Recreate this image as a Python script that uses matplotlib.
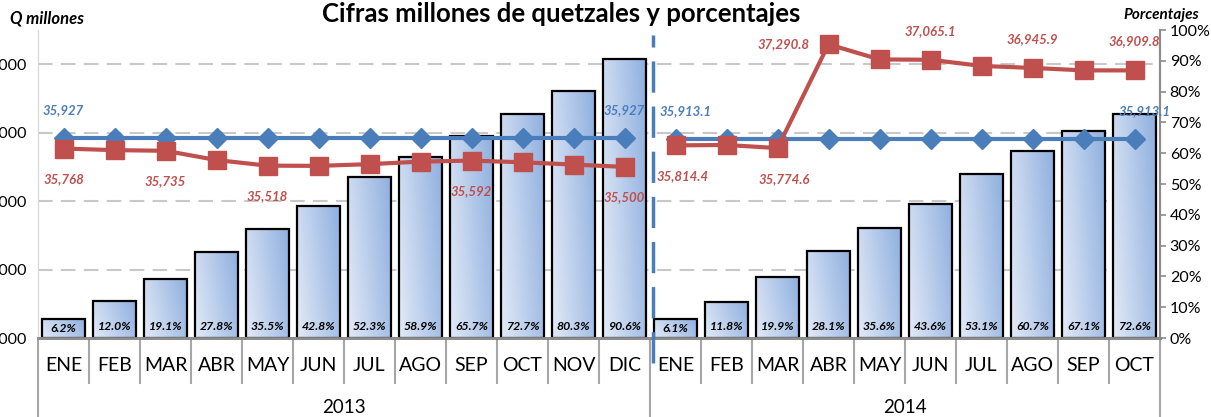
import numpy as np
import matplotlib
matplotlib.use('Agg')
import matplotlib.pyplot as plt
from matplotlib.lines import Line2D
from matplotlib.transforms import blended_transform_factory

plt.rcParams['font.family'] = ['Lato', 'DejaVu Sans']

meses13 = ['ENE', 'FEB', 'MAR', 'ABR', 'MAY', 'JUN', 'JUL', 'AGO', 'SEP', 'OCT', 'NOV', 'DIC']
meses14 = ['ENE', 'FEB', 'MAR', 'ABR', 'MAY', 'JUN', 'JUL', 'AGO', 'SEP', 'OCT']
anios = ['2013', '2014']

# porcentajes de ejecucion (barras, eje derecho)
pct13 = [6.2, 12.0, 19.1, 27.8, 35.5, 42.8, 52.3, 58.9, 65.7, 72.7, 80.3, 90.6]
pct14 = [6.1, 11.8, 19.9, 28.1, 35.6, 43.6, 53.1, 60.7, 67.1, 72.6]

# millones de quetzales (lineas, eje izquierdo)
azul13 = [35927] * 12
azul14 = [35913.1] * 10
rojo13 = [35768, 35745, 35735, 35600, 35518, 35515, 35540, 35577, 35592, 35567, 35534, 35500]
rojo14 = [35814.4, 35820, 35774.6, 37290.8, 37070, 37065.1, 36975, 36945.9, 36910, 36909.8]

# etiquetas visibles: (indice, texto)
etq_azul13 = [(0, '35,927'), (11, '35,927')]
etq_azul14 = [(0, '35,913.1'), (9, '35,913.1')]
etq_rojo13 = [(0, '35,768'), (2, '35,735'), (4, '35,518'), (8, '35,592'), (11, '35,500')]
etq_rojo14_abajo = [(0, '35,814.4'), (2, '35,774.6')]
etq_rojo14_arriba = [(5, '37,065.1'), (7, '36,945.9'), (9, '36,909.8')]

azul = '#4a7ebb'
rojo = '#c0504d'
gris = '#a6a6a6'

n13 = len(meses13)
n14 = len(meses14)
x13 = np.arange(n13)
x14 = np.arange(n14) + n13
n = n13 + n14

fig = plt.figure(figsize=(12.11, 4.17), dpi=100)
axp = fig.add_axes([38/1211, 1-338/417, 1122/1211, 308/417])
ax = axp.twinx()
ax.set_zorder(axp.get_zorder() + 1)
ax.patch.set_visible(False)

# eje de porcentajes a la derecha, valores a la izquierda
axp.yaxis.tick_right()
ax.yaxis.tick_left()
axp.set_xlim(-0.5, n - 0.5)
axp.set_ylim(0, 100)
ax.set_ylim(33000, 37500)

# lineas de cuadricula (detras de las barras)
tr = blended_transform_factory(axp.transAxes, ax.transData)
for v in [34000, 35000, 36000, 37000]:
    axp.plot([0, 1], [v, v], transform=tr, color='#c8c8c8', lw=1.5,
             dashes=(7, 4), zorder=0)

# barras con degradado
cmap = matplotlib.colors.LinearSegmentedColormap.from_list('g', ['#e2eaf7', '#90b0df'])
gx, gy = np.meshgrid(np.linspace(0, 1, 50), np.linspace(0, 1, 50))
grad = 0.75 * gx + 0.25 * gy
barras = axp.bar(np.concatenate([x13, x14]), pct13 + pct14, width=0.84,
                 facecolor='none', edgecolor='black', linewidth=1.6, zorder=3)
for b in barras:
    x0, y0 = b.get_x(), b.get_y()
    w, h = b.get_width(), b.get_height()
    im = axp.imshow(grad, extent=[x0, x0 + w, y0, y0 + h], origin='lower',
                    cmap=cmap, aspect='auto', zorder=2)
    im.set_clip_path(b)
axp.set_xlim(-0.5, n - 0.5)
axp.set_ylim(0, 100)

for xi, p in zip(np.concatenate([x13, x14]), pct13 + pct14):
    yy = min(p / 2, 3.6)
    axp.text(xi, yy, '%.1f%%' % p, ha='center', va='center', fontsize=8.8,
             fontweight='bold', fontstyle='italic', color='black', zorder=4)

# lineas
for xs, ys in [(x13, azul13), (x14, azul14)]:
    ax.plot(xs, ys, color=azul, lw=3, marker='D', markersize=10, zorder=5)
for xs, ys in [(x13, rojo13), (x14, rojo14)]:
    ax.plot(xs, ys, color=rojo, lw=3, marker='s', markersize=13, zorder=6)

def etiqueta(xs, ys, lista, color, dy, ha='center', dx=0):
    for i, t in lista:
        ax.annotate(t, (xs[i], ys[i]), xytext=(dx, dy), textcoords='offset points',
                    ha=ha, va='center', fontsize=9.5, fontweight='bold',
                    fontstyle='italic', color=color, zorder=7)

etiqueta(x13, azul13, etq_azul13, azul, 20)
etiqueta(x14, azul14, etq_azul14, azul, 20, dx=7)
etiqueta(x13, rojo13, etq_rojo13, rojo, -22)
etiqueta(x14, rojo14, etq_rojo14_abajo, rojo, -22, dx=5)
etiqueta(x14, rojo14, etq_rojo14_arriba, rojo, 21)
etiqueta(x14, rojo14, [(3, '37,290.8')], rojo, 0, ha='right', dx=-14)

# ejes
ax.set_yticks([33000, 34000, 35000, 36000, 37000])
ax.set_yticklabels(['33,000', '34,000', '35,000', '36,000', '37,000'])
ax.tick_params(axis='y', length=0, labelsize=11.5, pad=8)
axp.set_yticks(np.arange(0, 101, 10))
axp.set_yticklabels(['%d%%' % v for v in range(0, 101, 10)])
axp.tick_params(axis='y', length=4, width=1.2, color='#8c8c8c', labelsize=11.5, pad=3)
axp.set_xticks([])
ax.set_xticks([])
for a in (ax, axp):
    a.spines['top'].set_visible(False)
    a.spines['left'].set_color('#d9d9d9')
    a.spines['right'].set_color('#8c8c8c')
    a.spines['right'].set_linewidth(1.5)
    a.spines['bottom'].set_color('#8c8c8c')
    a.spines['bottom'].set_linewidth(2)

# eje de categorias de dos niveles
trx = blended_transform_factory(axp.transData, axp.transAxes)
for xi, m in zip(np.concatenate([x13, x14]), meses13 + meses14):
    axp.text(xi, -0.088, m, transform=trx, ha='center', va='center', fontsize=14)
for xb in np.arange(0.5, n - 1, 1):
    if xb == n13 - 0.5:
        continue
    axp.add_line(Line2D([xb, xb], [0, -0.146], transform=trx, color=gris, lw=1.5,
                        clip_on=False))
for xb in [-0.5, n13 - 0.5, n - 0.5]:
    axp.add_line(Line2D([xb, xb], [0, -0.26], transform=trx, color=gris, lw=1.5,
                        clip_on=False))
axp.text((n13 - 1) / 2, -0.227, anios[0], transform=trx, ha='center', va='center', fontsize=13.5)
axp.text(n13 + (n14 - 1) / 2, -0.227, anios[1], transform=trx, ha='center', va='center', fontsize=13.5)

# separador entre anios
ax.add_line(Line2D([n13 - 0.45, n13 - 0.45], [-0.08, 0.985], transform=trx, color=azul,
                   lw=2.5, dashes=(9, 4), clip_on=False, zorder=8))

# titulos
fig.text(0.463, 0.966, 'Cifras millones de quetzales y porcentajes', ha='center', va='center',
         fontsize=18.5, fontweight='bold')
fig.text(0.008, 0.955, 'Q millones', ha='left', va='center', fontsize=12,
         fontweight='bold', fontstyle='italic')
fig.text(0.99, 0.963, 'Porcentajes', ha='right', va='center', fontsize=11,
         fontweight='bold', fontstyle='italic')

fig.savefig('out.png', dpi=100)
